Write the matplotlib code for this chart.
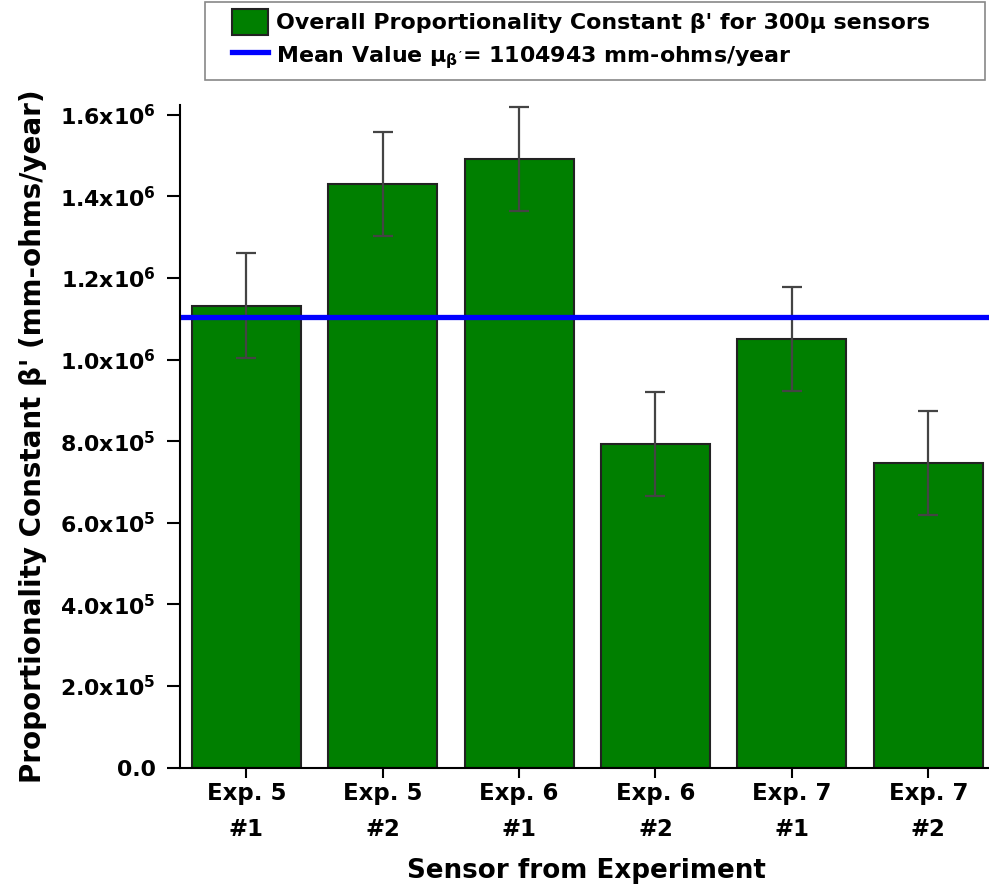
import matplotlib
matplotlib.use("Agg")
import matplotlib.pyplot as plt
from matplotlib.patches import Patch, Rectangle
from matplotlib.lines import Line2D

# データ
sensors = ["Exp. 5\n#1", "Exp. 5\n#2", "Exp. 6\n#1", "Exp. 6\n#2", "Exp. 7\n#1", "Exp. 7\n#2"]
beta_values = [1.132e6, 1.430e6, 1.492e6, 0.793e6, 1.051e6, 0.746e6]
beta_errors = [0.128e6, 0.128e6, 0.128e6, 0.127e6, 0.128e6, 0.128e6]
mean_value = 1104943
y_ticks = [0, 2e5, 4e5, 6e5, 8e5, 1e6, 1.2e6, 1.4e6, 1.6e6]
y_tick_labels = ["0.0", "2.0x10$^{5}$", "4.0x10$^{5}$", "6.0x10$^{5}$", "8.0x10$^{5}$",
                 "1.0x10$^{6}$", "1.2x10$^{6}$", "1.4x10$^{6}$", "1.6x10$^{6}$"]

plt.rcParams['font.family'] = ['DejaVu Sans']
plt.rcParams['font.weight'] = 'bold'
plt.rcParams['mathtext.fontset'] = 'custom'
plt.rcParams['mathtext.rm'] = 'DejaVu Sans:bold'
plt.rcParams['mathtext.it'] = 'DejaVu Sans:bold'
plt.rcParams['mathtext.bf'] = 'DejaVu Sans:bold'

fig = plt.figure(figsize=(9.89, 8.94), dpi=100)
ax = fig.add_axes([0.182, 0.1413, 0.818, 0.7413])

x = list(range(len(sensors)))
ax.bar(x, beta_values, width=0.8, color="#007f00", edgecolor="#222222", linewidth=1.5,
       yerr=beta_errors, error_kw=dict(ecolor="#444444", elinewidth=1.6, capsize=7.5, capthick=1.6))
ax.axhline(mean_value, color="#0000ff", linewidth=3.8)

ax.set_xlim(-0.486, 5.445)
ax.set_ylim(0, 1.624e6)
ax.set_xticks(x)
ax.set_xticklabels(sensors, fontsize=16.5, fontweight='bold', linespacing=1.75)
ax.set_yticks(y_ticks)
ax.set_yticklabels(y_tick_labels, fontsize=15.8, fontweight='bold')

for s in ['top', 'right']:
    ax.spines[s].set_visible(False)
for s in ['left', 'bottom']:
    ax.spines[s].set_linewidth(1.5)
ax.tick_params(axis='y', direction='out', length=9.5, width=1.5, pad=8)
ax.tick_params(axis='x', direction='out', length=7, width=1.5, pad=3)

ax.set_ylabel("Proportionality Constant β' (mm-ohms/year)", fontsize=20, fontweight='bold')
ax.yaxis.set_label_coords(-0.164, 0.5)
ax.set_xlabel("Sensor from Experiment", fontsize=18.8, fontweight='bold')
ax.xaxis.set_label_coords(0.503, -0.136)

# 凡例（軸の外の上側）、枠は別に描く
handles = [
    Patch(facecolor="#007f00", edgecolor="#222222", linewidth=1.5),
    Line2D([0], [0], color="#0000ff", linewidth=3.8),
]
labels = [
    "Overall Proportionality Constant β' for 300μ sensors",
    "Mean Value μ$_{β'}$= 1104943 mm-ohms/year",
]
fig.legend(handles, labels, loc='upper left', bbox_to_anchor=(232 / 989, 1 - 9 / 894),
           prop={'weight': 'bold', 'size': 15.9}, frameon=False,
           handlelength=1.65, handleheight=1.45, handletextpad=0.35,
           borderpad=0, labelspacing=0.3, borderaxespad=0)
fig.patches.append(Rectangle((205 / 989, 1 - 80 / 894), 780 / 989, 78 / 894,
                             transform=fig.transFigure, facecolor='none',
                             edgecolor="#888888", linewidth=1.2))

fig.savefig("out.png", dpi=100)
